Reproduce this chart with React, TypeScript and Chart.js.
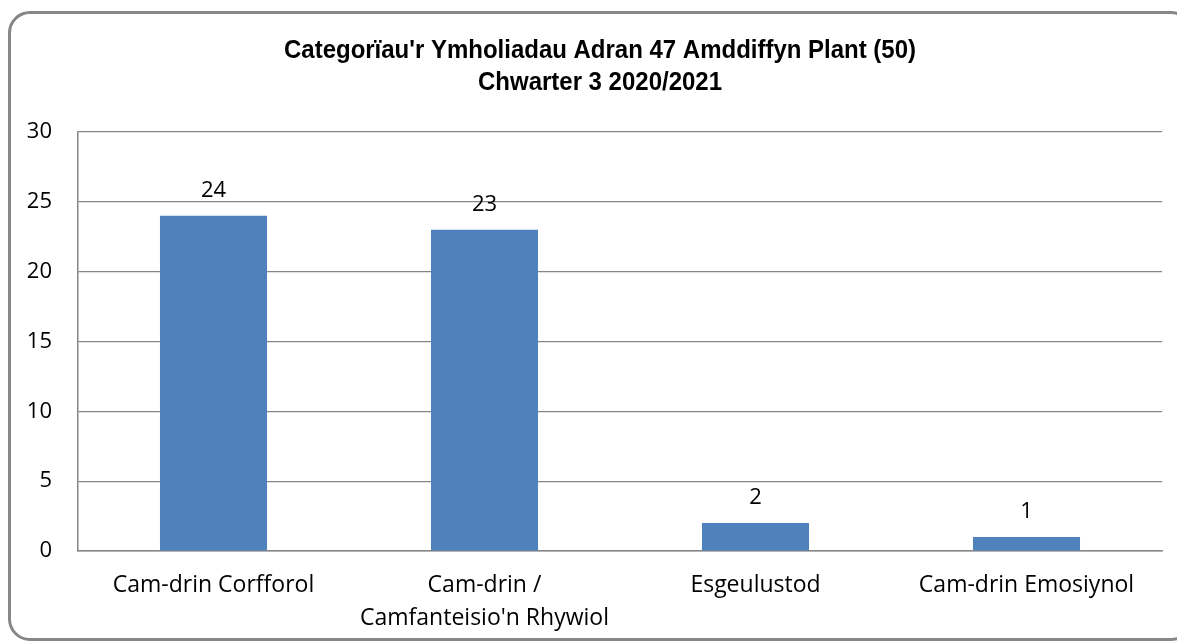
import React, { useEffect, useRef } from "react";
import { Chart, registerables } from "chart.js";

Chart.register(...registerables);

const titleLines = ["Categorïau'r Ymholiadau Adran 47 Amddiffyn Plant (50)", "Chwarter 3 2020/2021"];
const categories = [
  ["Cam-drin Corfforol"],
  ["Cam-drin /", "Camfanteisio'n Rhywiol"],
  ["Esgeulustod"],
  ["Cam-drin Emosiynol"],
];
const values = [24, 23, 2, 1];
const yMin = 0;
const yMax = 30;
const yStep = 5;

const W = 1177;
const H = 643;
const bodyFont = "'Open Sans', 'DejaVu Sans', sans-serif";

const dataLabels = {
  id: "dataLabels",
  afterDatasetsDraw(chart: any) {
    const ctx = chart.ctx;
    const meta = chart.getDatasetMeta(0);
    ctx.save();
    ctx.font = `22px ${bodyFont}`;
    ctx.fillStyle = "#000000";
    ctx.textAlign = "center";
    ctx.textBaseline = "alphabetic";
    meta.data.forEach((bar: any, i: number) => {
      ctx.fillText(String(values[i]), bar.x, bar.y - 19);
    });
    ctx.restore();
  },
};

// Title drawn as canvas text, slightly condensed to match the narrow bold face
const condensedTitle = {
  id: "condensedTitle",
  afterDraw(chart: any) {
    const ctx = chart.ctx;
    ctx.save();
    ctx.font = "bold 26.5px 'Liberation Sans', Arial, sans-serif";
    ctx.fillStyle = "#000000";
    ctx.textAlign = "center";
    ctx.textBaseline = "alphabetic";
    const cx = 600;
    const baselines = [58, 90];
    titleLines.forEach((line, i) => {
      ctx.save();
      ctx.translate(cx, baselines[i]);
      ctx.scale(0.905, 1);
      ctx.fillText(line, 0, 0);
      ctx.restore();
    });
    ctx.restore();
  },
};

export default function App() {
  const ref = useRef<HTMLCanvasElement | null>(null);

  useEffect(() => {
    if (!ref.current) return;
    const chart = new Chart(ref.current, {
      type: "bar",
      data: {
        labels: categories,
        datasets: [
          {
            data: values,
            backgroundColor: "#4F81BD",
            borderWidth: 0,
            barPercentage: 0.395,
            categoryPercentage: 1,
          },
        ],
      },
      options: {
        animation: false,
        responsive: false,
        maintainAspectRatio: false,
        layout: { padding: { left: 0, right: 15, top: 132, bottom: 0 } },
        plugins: {
          legend: { display: false },
          tooltip: { enabled: false },
          title: { display: false },
        },
        scales: {
          x: {
            grid: { display: false, drawTicks: false },
            border: { display: true, color: "#868686", width: 1.5 },
            ticks: {
              color: "#000000",
              font: { family: bodyFont, size: 23, lineHeight: 1.43 },
              padding: 18,
              maxRotation: 0,
              autoSkip: false,
            },
            afterFit(scale: any) {
              scale.height = 92;
            },
          },
          y: {
            min: yMin,
            max: yMax,
            grid: { color: "#868686", lineWidth: 1.2, drawTicks: false },
            border: { display: true, color: "#868686", width: 1.5 },
            ticks: {
              stepSize: yStep,
              color: "#000000",
              font: { family: bodyFont, size: 22 },
              padding: 26,
            },
            afterFit(scale: any) {
              scale.width = 78;
            },
          },
        },
      },
      plugins: [dataLabels, condensedTitle],
    });
    return () => chart.destroy();
  }, []);

  return (
    <div style={{ position: "fixed", left: 0, top: 0, width: W, height: H, background: "#ffffff", overflow: "hidden" }}>
      <div
        style={{
          position: "absolute",
          left: 8,
          top: 11,
          width: 1185,
          height: 630,
          boxSizing: "border-box",
          border: "3px solid #878787",
          borderRadius: 22,
        }}
      />
      <canvas ref={ref} width={W} height={H} style={{ position: "absolute", left: 0, top: 0, width: W, height: H }} />
    </div>
  );
}
